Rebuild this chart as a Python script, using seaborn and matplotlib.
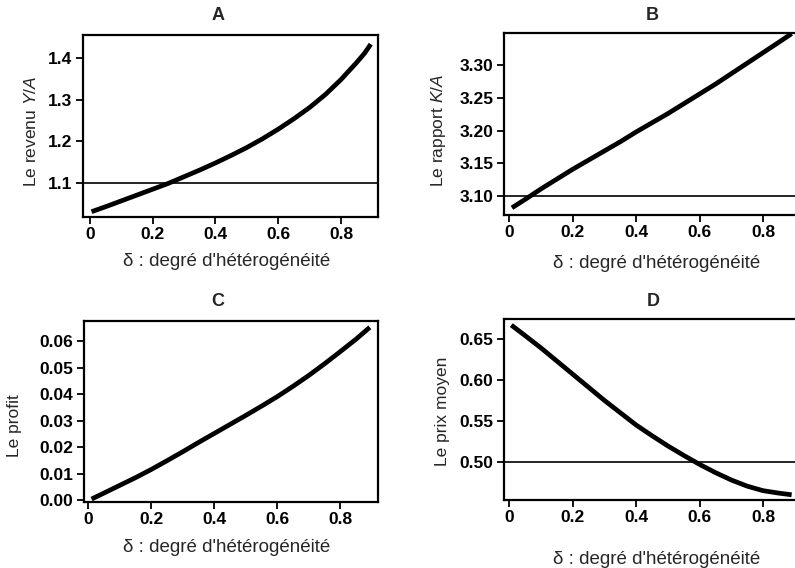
import numpy as np
import pandas as pd
import matplotlib
matplotlib.use("Agg")
import matplotlib.pyplot as plt
import seaborn as sns

# ---- data ----
delta_A = [0.005, 0.05, 0.10, 0.15, 0.20, 0.25, 0.30, 0.35, 0.40, 0.45,
           0.50, 0.55, 0.60, 0.65, 0.70, 0.75, 0.80, 0.85, 0.875, 0.895]
revenu = [1.031, 1.043, 1.057, 1.071, 1.085, 1.099, 1.115, 1.131, 1.148, 1.166,
          1.185, 1.206, 1.229, 1.254, 1.281, 1.312, 1.348, 1.389, 1.411, 1.433]

delta_B = [0.008, 0.05, 0.10, 0.15, 0.20, 0.25, 0.30, 0.35, 0.40, 0.45,
           0.50, 0.55, 0.60, 0.65, 0.70, 0.75, 0.80, 0.85, 0.89]
rapport = [3.082, 3.095, 3.111, 3.126, 3.141, 3.155, 3.169, 3.183, 3.198, 3.212,
           3.226, 3.241, 3.256, 3.271, 3.287, 3.303, 3.319, 3.335, 3.348]

delta_C = [0.01, 0.05, 0.10, 0.15, 0.20, 0.25, 0.30, 0.35, 0.40, 0.45,
           0.50, 0.55, 0.60, 0.65, 0.70, 0.75, 0.80, 0.85, 0.893]
profit = [0.0004, 0.0027, 0.0056, 0.0085, 0.0116, 0.0149, 0.0183, 0.0218, 0.0252, 0.0286,
          0.0320, 0.0355, 0.0391, 0.0430, 0.0471, 0.0515, 0.0561, 0.0608, 0.0652]

delta_D = [0.006, 0.05, 0.10, 0.15, 0.20, 0.25, 0.30, 0.35, 0.40, 0.45,
           0.50, 0.55, 0.60, 0.65, 0.70, 0.75, 0.80, 0.85, 0.89]
prix = [0.667, 0.654, 0.639, 0.623, 0.607, 0.591, 0.575, 0.560, 0.545, 0.532,
        0.5195, 0.508, 0.497, 0.487, 0.478, 0.4705, 0.465, 0.462, 0.460]

titles = ["A", "B", "C", "D"]
ylabels = ["Le revenu $\\it{Y/A}$", "Le rapport $\\it{K/A}$", "Le profit", "Le prix moyen"]
xlabel = "δ : degré d'hétérogénéité"
ref_lines = [1.1, 3.10, None, 0.50]

yticks = [[1.1, 1.2, 1.3, 1.4],
          [3.10, 3.15, 3.20, 3.25, 3.30],
          [0.00, 0.01, 0.02, 0.03, 0.04, 0.05, 0.06],
          [0.50, 0.55, 0.60, 0.65]]
yticklabels = [["1.1", "1.2", "1.3", "1.4"],
               ["3.10", "3.15", "3.20", "3.25", "3.30"],
               ["0.00", "0.01", "0.02", "0.03", "0.04", "0.05", "0.06"],
               ["0.50", "0.55", "0.60", "0.65"]]
xticks = [0, 0.2, 0.4, 0.6, 0.8]
xticklabels = ["0", "0.2", "0.4", "0.6", "0.8"]

deltas = [delta_A, delta_B, delta_C, delta_D]
series = [revenu, rapport, profit, prix]

sns.set_style("ticks")
plt.rcParams["font.family"] = ["Liberation Sans", "DejaVu Sans"]
plt.rcParams["mathtext.fontset"] = "custom"
plt.rcParams["mathtext.it"] = "Liberation Sans:italic"
plt.rcParams["mathtext.rm"] = "Liberation Sans"

W, H = 795, 568
fig = plt.figure(figsize=(W / 100, H / 100), dpi=100)

# axes boxes in pixels: left, top, right, bottom
boxes = [(83, 35, 378.3, 216.7), (503.7, 33, 795, 214.7),
         (84, 320.7, 378.3, 501.7), (503.7, 318.7, 795, 499.7)]
xlims = [(-0.0223, 0.919), (-0.018, 0.9006), (-0.014, 0.920), (-0.018, 0.9006)]
ylims = [(1.019, 1.455), (3.0715, 3.349), (-0.0006, 0.0677), (0.454, 0.6748)]
title_pos = [(218, 16), (652, 15), (218, 302), (653, 301)]
ylabel_px = [(31, 131), (438, 130), (15, 426), (442, 411)]
xlabel_px = [(227, 262), (657, 263), (227, 547), (657, 559)]

tick_font = dict(family=["Liberation Sans", "DejaVu Sans"], weight="bold", size=12.5)

for i in range(4):
    l, t, r, b = boxes[i]
    ax = fig.add_axes([l / W, 1 - b / H, (r - l) / W, (b - t) / H])
    df = pd.DataFrame({"delta": deltas[i], "val": series[i]})
    sns.lineplot(data=df, x="delta", y="val", ax=ax, color="black", linewidth=3.4,
                 solid_capstyle="butt", solid_joinstyle="round")
    if ref_lines[i] is not None:
        ax.axhline(ref_lines[i], color="black", linewidth=1.2)
    ax.set_xlim(*xlims[i])
    ax.set_ylim(*ylims[i])
    ax.set_xticks(xticks)
    ax.set_xticklabels(xticklabels, fontdict=tick_font)
    ax.set_yticks(yticks[i])
    ax.set_yticklabels(yticklabels[i], fontdict=tick_font)
    ax.tick_params(axis="both", direction="out", length=5, width=1.3, pad=2.5, colors="black")
    for s in ax.spines.values():
        s.set_linewidth(1.6)
        s.set_color("black")
    if i in (1, 3):
        ax.spines["right"].set_visible(False)
    # axis labels placed by pixel centre
    ax.set_ylabel(ylabels[i], fontsize=12.5, va="center")
    yx, yy = ylabel_px[i]
    ax.yaxis.set_label_coords((yx - l) / (r - l), (b - yy) / (b - t))
    ax.set_xlabel(xlabel, fontsize=13.5, va="center")
    xx, xy = xlabel_px[i]
    ax.xaxis.set_label_coords((xx - l) / (r - l), (b - xy) / (b - t))
    fig.text(title_pos[i][0] / W, 1 - title_pos[i][1] / H, titles[i],
             ha="center", va="center", fontsize=13, fontweight="bold")

fig.savefig("out.png", dpi=100)
